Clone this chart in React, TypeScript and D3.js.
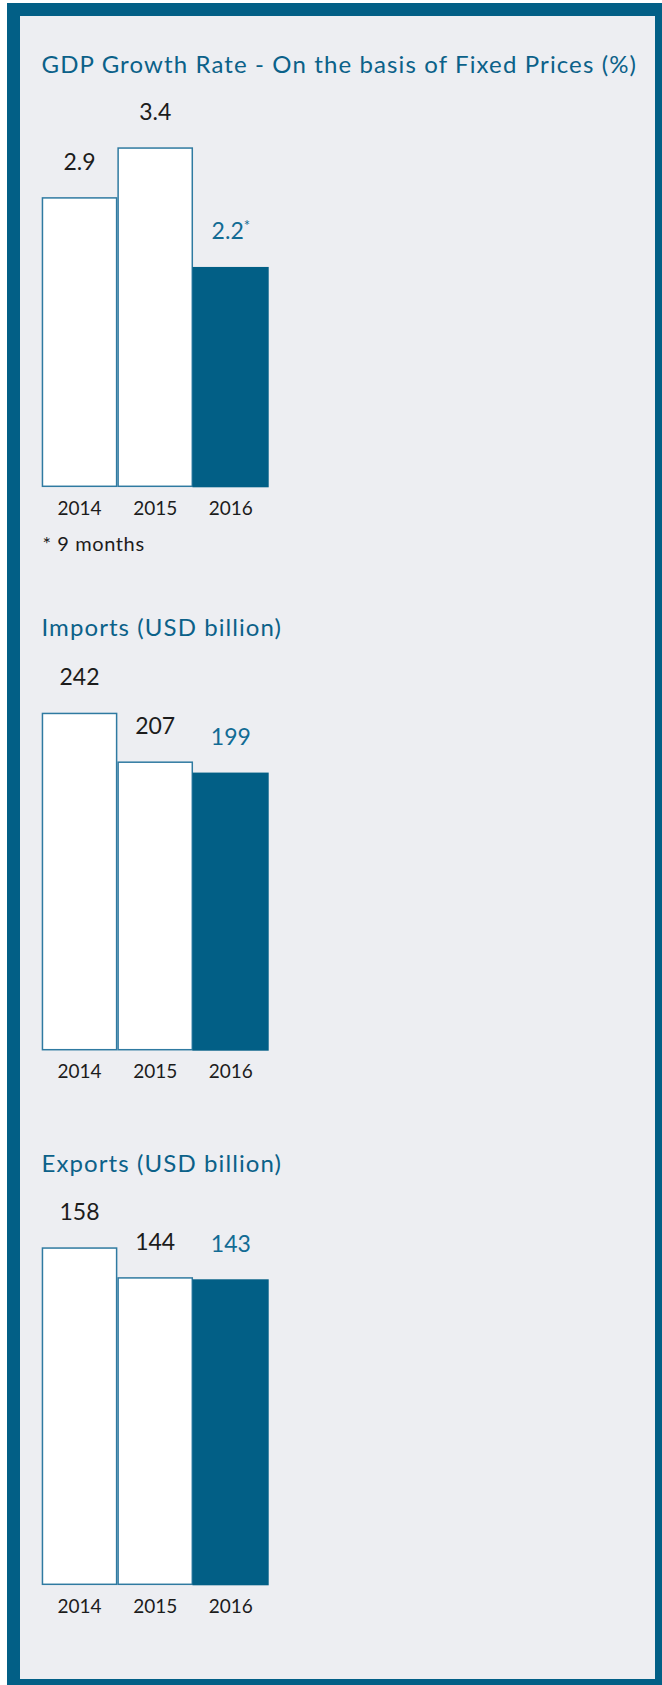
import React from "react";
import * as d3 from "d3";

const years = ["2014", "2015", "2016"];
const gdpValues = [2.9, 3.4, 2.2];
const gdpLabels = ["2.9", "3.4", "2.2"];
const importValues = [242, 207, 199];
const importLabels = ["242", "207", "199"];
const exportValues = [158, 144, 143];
const exportLabels = ["158", "144", "143"];
const titles = [
  "GDP Growth Rate - On the basis of Fixed Prices (%)",
  "Imports (USD billion)",
  "Exports (USD billion)",
];
const footnote = "* 9 months";

const W = 662;
const H = 1685;
const DARK = "#025f86";
const BG = "#edeef2";
const TITLE_C = "#0b6189";
const LABEL_BLUE = "#126b94";
const STROKE = "#2f7aa1";
const TEXT = "#1c1c1c";
const FONT = "Lato, 'Noto Sans', sans-serif";

const panels = [
  { title: titles[0], titleW: 594.5, values: gdpValues, labels: gdpLabels, titleY: 73.3, base: 486.3, maxH: 339, star: true },
  { title: titles[1], titleW: 239.5, values: importValues, labels: importLabels, titleY: 636, base: 1049.7, maxH: 337, star: false },
  { title: titles[2], titleW: 239.5, values: exportValues, labels: exportLabels, titleY: 1172.3, base: 1584.3, maxH: 337, star: false },
];

const x = d3.scaleBand<string>().domain(years).range([41.7, 268.7]).padding(0);

function Panel({ p }: { p: (typeof panels)[number] }) {
  const maxV = d3.max(p.values) as number;
  const y = d3.scaleLinear().domain([0, maxV]).range([p.base, p.base - p.maxH]);
  const bw = x.bandwidth();
  return (
    <g>
      <text
        x={41.5}
        y={p.titleY}
        fill={TITLE_C}
        fontSize={24}
        fontFamily={FONT}
        textLength={p.titleW}
        lengthAdjust="spacing"
      >
        {p.title}
      </text>
      {p.values.map((v, i) => {
        const x0 = x(years[i]) as number;
        const last = i === p.values.length - 1;
        return last ? (
          <rect key={i} x={x0 - 0.5} y={y(v)} width={bw + 0.5} height={p.base + 1 - y(v)} fill={DARK} />
        ) : (
          <rect
            key={i}
            x={x0 + 0.75}
            y={y(v) + 0.75}
            width={bw - 1.5}
            height={p.base - y(v) - 0.75}
            fill="#ffffff"
            stroke={STROKE}
            strokeWidth={1.5}
          />
        );
      })}
      {p.values.map((v, i) => {
        const last = i === p.values.length - 1;
        const cx = (x(years[i]) as number) + bw / 2;
        return (
          <text
            key={"l" + i}
            x={cx}
            y={y(v) - 27.5}
            textAnchor="middle"
            fill={last ? LABEL_BLUE : TEXT}
            fontSize={23}
            fontFamily={FONT}
          >
            {p.labels[i]}
            {last && p.star ? (
              <tspan fontSize={15} dy={-8}>
                *
              </tspan>
            ) : null}
          </text>
        );
      })}
      {years.map((yr) => (
        <text
          key={"a" + yr}
          x={(x(yr) as number) + bw / 2}
          y={p.base + 28.7}
          textAnchor="middle"
          fill={TEXT}
          fontSize={19}
          fontFamily={FONT}
        >
          {yr}
        </text>
      ))}
    </g>
  );
}

export default function App() {
  return (
    <svg
      width={W}
      height={H}
      style={{ position: "absolute", left: 0, top: 0, display: "block" }}
    >
      <rect x={0} y={0} width={W} height={H} fill="#ffffff" />
      <rect x={7} y={3} width={W - 7} height={H - 3} fill={DARK} />
      <rect x={20} y={16} width={635} height={1663} fill={BG} />
      {panels.map((p, i) => (
        <Panel key={i} p={p} />
      ))}
      <text x={42.5} y={551} fill={TEXT} fontSize={20} fontFamily={FONT} letterSpacing={0.6}>
        {footnote}
      </text>
    </svg>
  );
}
